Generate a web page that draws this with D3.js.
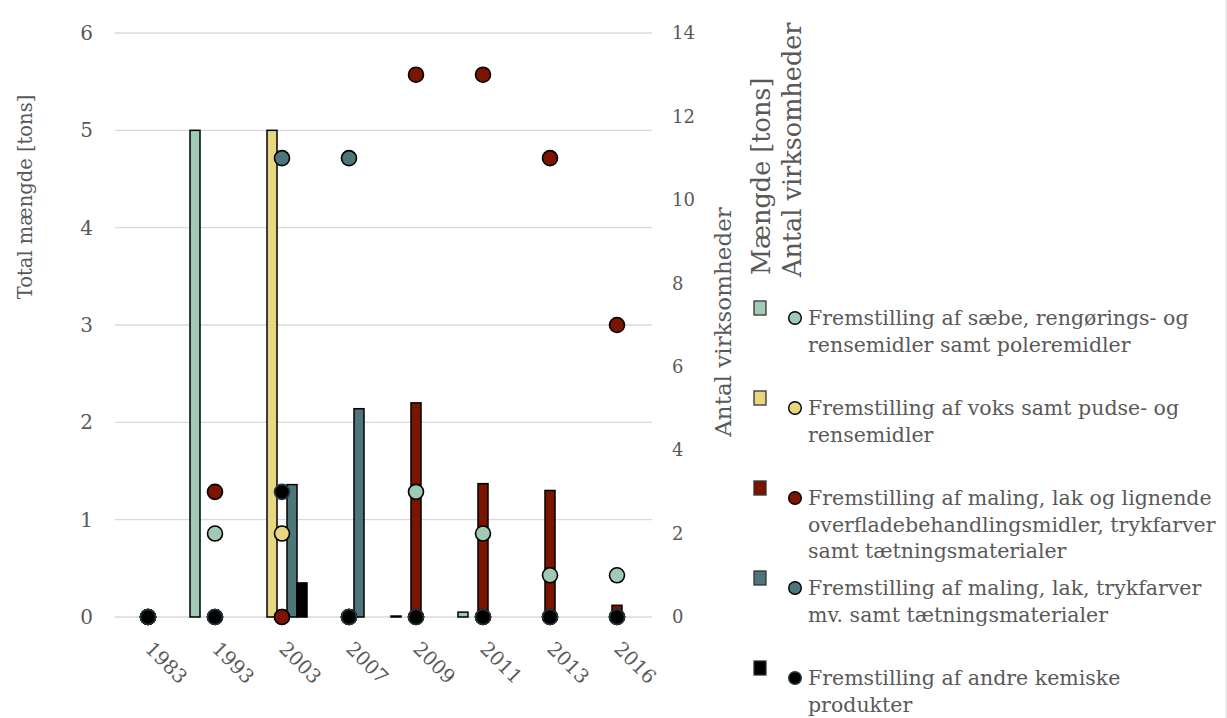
<!DOCTYPE html>
<html>
<head>
<meta charset="utf-8">
<script src="https://cdn.jsdelivr.net/npm/d3@7"></script>
<style>
  html, body { margin: 0; padding: 0; background: #fff; }
  svg { display: block; }
  text { font-family: "DejaVu Serif", Georgia, serif; fill: #595959; }
</style>
</head>
<body>
<svg id="chart" width="1227" height="718"></svg>
<script>
// Years on the category axis
const years = ["1983", "1993", "2003", "2007", "2009", "2011", "2013", "2016"];

// Industry groups (legend order = drawing order)
const groups = [
  ["Fremstilling af sæbe, rengørings- og", "rensemidler samt poleremidler"],
  ["Fremstilling af voks samt pudse- og", "rensemidler"],
  ["Fremstilling af maling, lak og lignende", "overfladebehandlingsmidler, trykfarver", "samt tætningsmaterialer"],
  ["Fremstilling af maling, lak, trykfarver", "mv. samt tætningsmaterialer"],
  ["Fremstilling af andre kemiske", "produkter"]
];
const groupColors = ["#a0cab6", "#e8d680", "#7b1500", "#4e757a", "#000000"];

// Amount [tons] per group and year (bars, left axis)
const tonsSaebe   = [0, 5.0, 0, 0, 0.01, 0.05, 0, 0];
const tonsVoks    = [0, 0, 5.0, 0, 0, 0, 0, 0];
const tonsMaling  = [0, 0, 0, 0, 2.2, 1.37, 1.3, 0.12];
const tonsLak     = [0, 0, 1.36, 2.14, 0, 0, 0, 0];
const tonsAndre   = [0, 0, 0.35, 0, 0, 0, 0, 0];

// Number of companies per group and year (dots, right axis)
const antalSaebe  = [0, 2, 0, 0, 3, 2, 1, 1];
const antalVoks   = [0, 0, 2, 0, 0, 0, 0, 0];
const antalMaling = [0, 3, 0, 0, 13, 13, 11, 7];
const antalLak    = [0, 0, 11, 11, 0, 0, 0, 0];
const antalAndre  = [0, 0, 3, 0, 0, 0, 0, 0];

// Axis ticks
const leftTicks  = [0, 1, 2, 3, 4, 5, 6];
const rightTicks = [0, 2, 4, 6, 8, 10, 12, 14];

const tons  = [tonsSaebe, tonsVoks, tonsMaling, tonsLak, tonsAndre];
const antal = [antalSaebe, antalVoks, antalMaling, antalLak, antalAndre];

const svg = d3.select("#chart");
const serif = "'DejaVu Serif', serif";

const x = d3.scaleBand().domain(years).range([114.5, 650.5]).padding(0);
const yL = d3.scaleLinear().domain([0, 6]).range([617, 33]);
const yR = d3.scaleLinear().domain([0, 14]).range([617, 33]);
const slot = 10;

// Gridlines
svg.append("g").selectAll("line").data(leftTicks).join("line")
  .attr("x1", 115).attr("x2", 652)
  .attr("y1", d => yL(d)).attr("y2", d => yL(d))
  .attr("stroke", "#d9d9d9").attr("stroke-width", 1.3);

// Left axis
const leftAxis = svg.append("g").attr("transform", "translate(93,0)")
  .call(d3.axisLeft(yL).tickValues(leftTicks).tickFormat(d3.format("d")).tickSize(0).tickPadding(0));
leftAxis.select(".domain").remove();
leftAxis.selectAll("text").style("font-size", "20px").style("font-family", serif).attr("fill", "#595959");

// Right axis
const rightAxis = svg.append("g").attr("transform", "translate(672,0)")
  .call(d3.axisRight(yR).tickValues(rightTicks).tickFormat(d3.format("d")).tickSize(0).tickPadding(0));
rightAxis.select(".domain").remove();
rightAxis.selectAll("text").style("font-size", "18px").style("font-family", serif).attr("fill", "#595959");

// Category axis labels, rotated
const bottom = svg.append("g").attr("transform", "translate(0,617)")
  .call(d3.axisBottom(x).tickSize(0).tickPadding(0));
bottom.select(".domain").remove();
bottom.selectAll("text")
  .style("font-size", "19.5px").style("font-family", serif).attr("fill", "#595959")
  .attr("text-anchor", "start")
  .attr("dy", null).attr("y", 0)
  .attr("transform", "translate(-4,33) rotate(45)");

// Bars
tons.forEach((vals, gi) => {
  svg.append("g").selectAll("rect")
    .data(years.map((yr, i) => ({ yr, v: vals[i] })).filter(d => d.v > 0))
    .join("rect")
    .attr("x", d => x(d.yr) + x.bandwidth() / 2 + (gi - 2) * slot - slot / 2)
    .attr("width", slot)
    .attr("y", d => yL(d.v))
    .attr("height", d => yL(0) - yL(d.v))
    .attr("fill", groupColors[gi])
    .attr("stroke", "#000").attr("stroke-width", 1.5);
});

// Dots
antal.forEach((vals, gi) => {
  svg.append("g").selectAll("circle")
    .data(years.map((yr, i) => ({ yr, v: vals[i] })).filter(d => d.v != null))
    .join("circle")
    .attr("cx", d => x(d.yr) + x.bandwidth() / 2)
    .attr("cy", d => yR(d.v))
    .attr("r", 7.5)
    .attr("fill", groupColors[gi])
    .attr("stroke", gi === 4 ? "#243a3e" : "#000").attr("stroke-width", 1.6);
});

// Axis titles
svg.append("text")
  .attr("transform", "translate(32,197) rotate(-90)")
  .attr("text-anchor", "middle")
  .style("font-size", "19.5px")
  .text("Total mængde [tons]");

svg.append("text")
  .attr("transform", "translate(731,322) rotate(-90)")
  .attr("text-anchor", "middle")
  .style("font-size", "23px")
  .text("Antal virksomheder");

// Legend headers
svg.append("text")
  .attr("transform", "translate(770,275) rotate(-90)")
  .style("font-size", "25.5px")
  .text("Mængde [tons]");
svg.append("text")
  .attr("transform", "translate(801,277) rotate(-90)")
  .style("font-size", "25.5px")
  .text("Antal virksomheder");

// Legend items
const legend = svg.append("g");
groups.forEach((lines, gi) => {
  const base = 325 + gi * 90;
  const item = legend.append("g");
  item.append("rect")
    .attr("x", 754).attr("y", base - 24).attr("width", 12).attr("height", 14)
    .attr("fill", groupColors[gi]).attr("stroke", "#333").attr("stroke-width", 1.3);
  item.append("circle")
    .attr("cx", 795).attr("cy", base - 7).attr("r", 6.3)
    .attr("fill", groupColors[gi]).attr("stroke", gi === 4 ? "#243a3e" : "#000").attr("stroke-width", 1.4);
  const t = item.append("text")
    .attr("x", 808).attr("y", base)
    .style("font-size", "20.5px");
  t.selectAll("tspan").data(lines).join("tspan")
    .attr("x", 808).attr("dy", (d, i) => i === 0 ? 0 : 26.5)
    .text(d => d);
});

// Frame edge on the right
svg.append("line")
  .attr("x1", 1226).attr("x2", 1226).attr("y1", 0).attr("y2", 718)
  .attr("stroke", "#d9d9d9").attr("stroke-width", 1);
</script>
</body>
</html>
